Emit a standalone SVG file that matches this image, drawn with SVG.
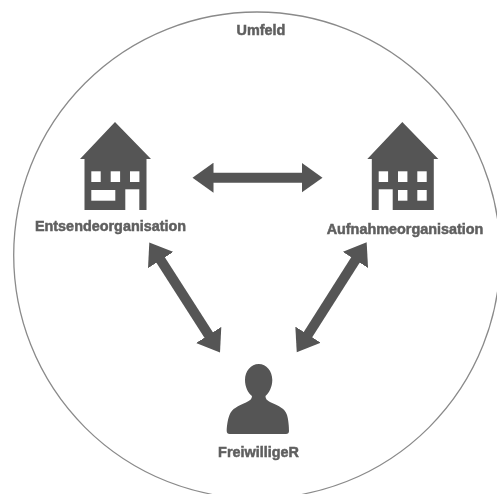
<svg xmlns="http://www.w3.org/2000/svg" width="497" height="494" viewBox="0 0 497 494">
  <style>
    .shape { fill: #555555; }
    .win { fill: #ffffff; }
    .label { font-family: "Liberation Sans", Arial, sans-serif; font-weight: 700; font-size: 14.400px; fill: #5f5f5f; text-anchor: middle; stroke: #5f5f5f; stroke-width: 0.5px; }
    .link { fill: none; stroke: #555555; stroke-width: 10; marker-start: url(#head); marker-end: url(#head); }
    .soft { filter: url(#soft); }
  </style>
  <defs>
    <filter id="soft" x="0" y="0" width="497" height="494" filterUnits="userSpaceOnUse">
      <feGaussianBlur stdDeviation="0.400"/>
    </filter>
    <marker id="head" markerUnits="userSpaceOnUse" markerWidth="22" markerHeight="30" viewBox="0 0 22 30" refX="11" refY="15" orient="auto-start-reverse">
      <path d="M0,0 L21,15 L0,30 Z" fill="#555555"/>
    </marker>
    <symbol id="house" overflow="visible">
      <path class="shape" d="M35,0 L71,37 L66.500,37 L66.500,88 L4.500,88 L4.500,37 L0,37 Z"/>
    </symbol>
  </defs>
  <rect width="497" height="494" fill="#ffffff"/>
  <g class="soft">
  <g id="umfeld">
    <circle cx="257" cy="255.300" r="243.300" fill="none" stroke="#8a8a8a" stroke-width="1.300"/>
    <text class="label" x="261" y="35">Umfeld</text>
  </g>
  <g id="connectors">
    <line class="link" x1="202.500" y1="177.700" x2="312.500" y2="177.700"/>
    <line class="link" x1="154.700" y1="250.800" x2="214.600" y2="344.200"/>
    <line class="link" x1="361.300" y1="250.700" x2="302.100" y2="343.900"/>
  </g>
  <g id="entsendeorganisation">
    <use href="#house" x="80" y="122"/>
    <g class="win">
      <rect x="91.300" y="171.300" width="9.400" height="10.700"/>
      <rect x="110.700" y="171.300" width="9.400" height="10.700"/>
      <rect x="130" y="171.300" width="9.400" height="10.700"/>
      <rect x="91.300" y="190" width="24" height="10.700"/>
      <rect x="125.300" y="189.300" width="14" height="20.700"/>
    </g>
    <text class="label" x="110.500" y="230.500">Entsendeorganisation</text>
  </g>
  <g id="aufnahmeorganisation">
    <use href="#house" x="367.300" y="122"/>
    <g class="win">
      <rect x="378.700" y="171.300" width="9.400" height="10.700"/>
      <rect x="398" y="171.300" width="9.400" height="10.700"/>
      <rect x="417.300" y="171.300" width="9.400" height="10.700"/>
      <rect x="398" y="190" width="9.400" height="10.700"/>
      <rect x="417.300" y="190" width="9.400" height="10.700"/>
      <rect x="378.700" y="189.300" width="14" height="20.700"/>
    </g>
    <text class="label" x="405" y="234">Aufnahmeorganisation</text>
  </g>
  <g id="freiwilliger">
    <path class="shape" d="M258.700,364 C266.500,364 272.300,371 272.300,380 C272.300,387 269,393 265.500,396 C265.500,399 267,400.500 271,402.500 C279,406 285,408.500 287,415 C288.500,420 289,427 289,431 Q289,434 286,434 L229.700,434 Q226.700,434 226.700,431 C226.700,427 227.500,420 229.500,415 C232,408.500 238,406 246,402.500 C250,400.500 252,399 252,396 C248,393 245,387 245,380 C245,371 251,364 258.700,364 Z"/>
    <text class="label" x="258.500" y="456.500">FreiwilligeR</text>
  </g>
  </g>
</svg>
